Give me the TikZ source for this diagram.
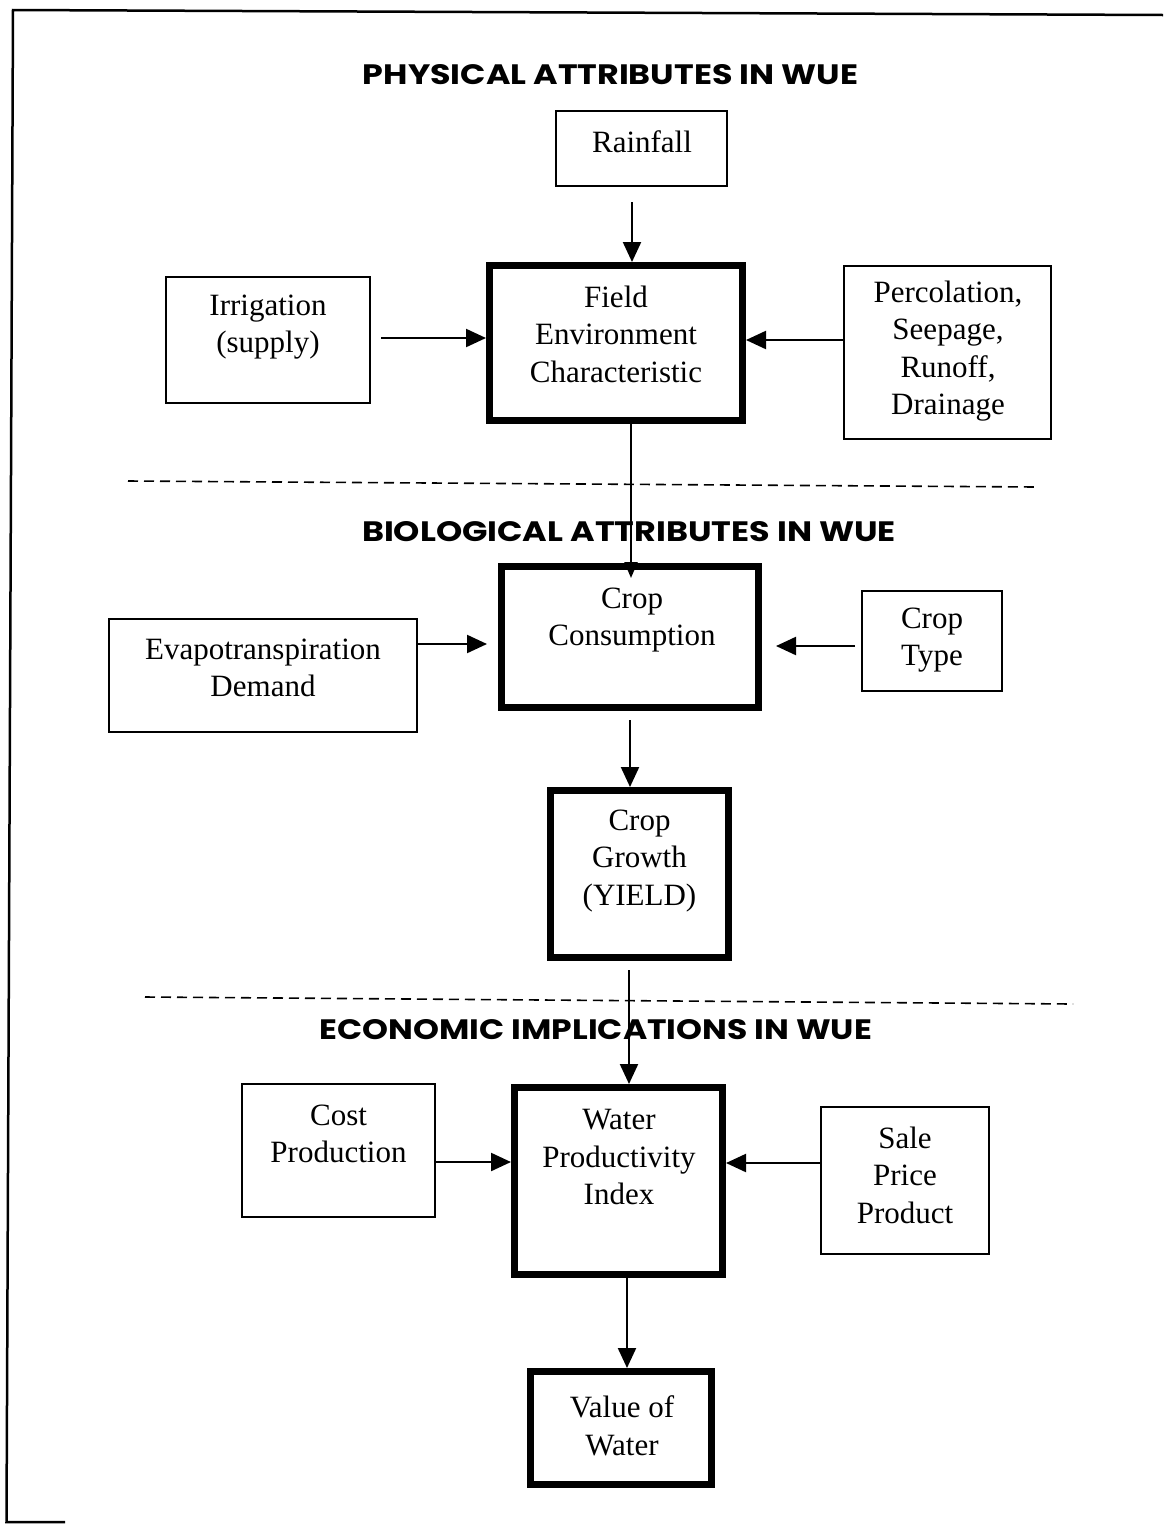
\documentclass[tikz,border=0pt]{standalone}
\usepackage{fontspec}
\setmainfont{Liberation Serif}
\newfontfamily\headfont{Poppins}
\usetikzlibrary{arrows.meta,calc}
\begin{document}
\begin{tikzpicture}[x=1pt,y=-1pt,
  thinbox/.style={draw,line width=2pt,inner sep=0pt},
  thickbox/.style={draw,line width=7pt,inner sep=0pt},
  lbl/.style={align=center,inner sep=0pt,font=\fontsize{31}{37.5}\selectfont},
  head/.style={inner sep=0pt},
  arr/.style={line width=2.2pt,-{Triangle[length=20pt,width=18pt]}},
  smallarr/.style={line width=2.2pt,-{Triangle[length=16pt,width=13pt]}},
  sep/.style={line width=1.6pt,dash pattern=on 10pt off 6pt},
  frame/.style={line width=2.5pt}]
\useasboundingbox (0,0) rectangle (1163,1524);
% frame
\coordinate (fa) at (6.5,1522);
\coordinate (fb) at (13,10);
\coordinate (fc) at (1163,15);
\coordinate (fd) at (65,1522);
\draw[frame] (fd) -- (fa) -- (fb) -- (fc);
% headings
\node[head] (h1) at (610.5,75) {\resizebox{495pt}{20pt}{\headfont\bfseries PHYSICAL ATTRIBUTES IN WUE}};
\node[head] (h2) at (629,532) {\resizebox{534pt}{20pt}{\headfont\bfseries BIOLOGICAL ATTRIBUTES IN WUE}};
\node[head] (h3) at (596,1030) {\resizebox{552pt}{20pt}{\headfont\bfseries ECONOMIC IMPLICATIONS IN WUE}};
% separators
\coordinate (d1a) at (128,481);
\coordinate (d1b) at (1036,487);
\coordinate (d2a) at (145,997);
\coordinate (d2b) at (1073,1004);
\draw[sep] (d1a) -- (d1b);
\draw[sep] (d2a) -- (d2b);
% boxes
\node[thinbox,minimum width=171pt,minimum height=75pt] (rain) at (641.5,148.5) {};
\node[thinbox,minimum width=204pt,minimum height=126pt] (irr) at (268,340) {};
\node[thinbox,minimum width=207pt,minimum height=173pt] (perc) at (947.5,352.5) {};
\node[thinbox,minimum width=308pt,minimum height=113pt] (et) at (263,675.5) {};
\node[thinbox,minimum width=140pt,minimum height=100pt] (ctype) at (932,641) {};
\node[thinbox,minimum width=193pt,minimum height=133pt] (cost) at (338.5,1150.5) {};
\node[thinbox,minimum width=168pt,minimum height=147pt] (sale) at (905,1180.5) {};
\node[thickbox,minimum width=253pt,minimum height=155pt] (field) at (616,343) {};
\node[thickbox,minimum width=257pt,minimum height=141pt] (cons) at (630,637) {};
\node[thickbox,minimum width=178pt,minimum height=167pt] (growth) at (639.5,874) {};
\node[thickbox,minimum width=208pt,minimum height=187pt] (wpi) at (618.5,1181) {};
\node[thickbox,minimum width=181pt,minimum height=113pt] (value) at (621,1428) {};
% texts
\node[lbl] (rainT) at (642,142) {Rainfall};
\node[lbl] (fieldT) at (616,334) {Field\\Environment\\Characteristic};
\node[lbl] (irrT) at (268,327) {Irrigation\\(supply)};
\node[lbl] (percT) at (948,351) {Percolation,\\Seepage,\\Runoff,\\Drainage};
\node[lbl] (consT) at (632,620) {Crop\\Consumption};
\node[lbl] (etT) at (263,668) {Evapotranspiration\\Demand};
\node[lbl] (ctypeT) at (932,640) {Crop\\Type};
\node[lbl] (growthT) at (639.5,861) {Crop\\Growth\\(YIELD)};
\node[lbl] (costT) at (338.5,1134) {Cost\\Production};
\node[lbl] (wpiT) at (619,1157) {Water\\Productivity\\Index};
\node[lbl] (saleT) at (905,1175) {Sale\\Price\\Product};
\node[lbl] (valueT) at (622,1426) {Value of\\Water};
% arrows
\draw[arr] ([xshift=-9.5pt,yshift=-15pt]rain.south) -- ([xshift=16pt]field.north);
\draw[arr] ([xshift=10pt,yshift=2pt]irr.east) -- ([yshift=5pt]field.west);
\draw[arr] ([yshift=12.5pt]perc.west) -- ([yshift=3pt]field.east);
\draw[smallarr] ([xshift=15pt]field.south) -- ([xshift=1pt,yshift=-15pt]cons.north);
\draw[arr] ([yshift=31.5pt]et.east) -- ([xshift=-11pt,yshift=-7pt]cons.west);
\draw[arr] ([xshift=-6pt,yshift=-5pt]ctype.west) -- ([xshift=14pt,yshift=-9pt]cons.east);
\draw[arr] ([yshift=-9pt]cons.south) -- ([xshift=-9.5pt]growth.north);
\draw[arr] ([xshift=-10.5pt,yshift=-9pt]growth.south) -- ([xshift=10.5pt]wpi.north);
\draw[arr] ([yshift=-11.5pt]cost.east) -- ([yshift=19pt]wpi.west);
\draw[arr] ([yshift=17.5pt]sale.west) -- ([yshift=18pt]wpi.east);
\draw[arr] ([xshift=8.5pt]wpi.south) -- ([xshift=6pt]value.north);
\end{tikzpicture}
\end{document}
